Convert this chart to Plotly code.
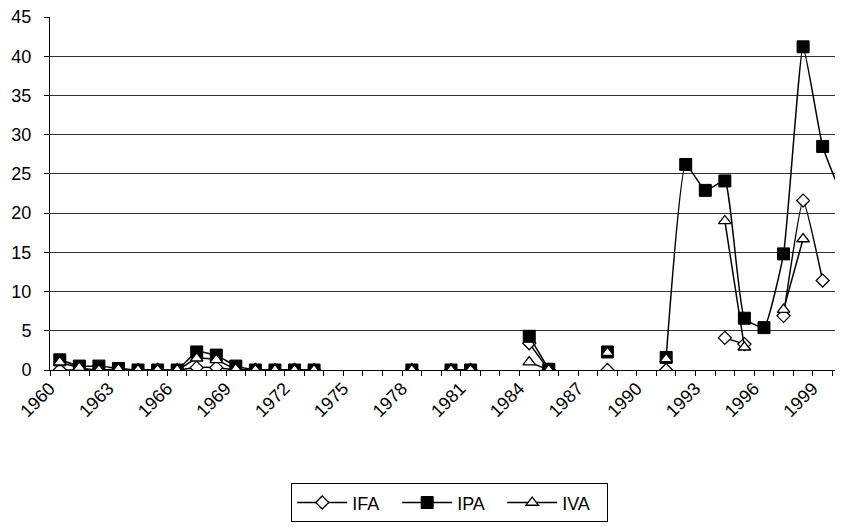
import plotly.graph_objects as go

years = list(range(1960, 2001))

N = None
# values per year 1960..2000 (None = no data)
ifa = [0, 0, 0, 0, 0, 0, 0, 0.3, 0.3, 0, 0, 0, 0, 0,
       N, N, N, N, 0, N, 0, 0, N, N, 3.4, 0, N, N, 0, N, N,
       0, N, N, 4.1, 3.3, N, 6.9, 21.6, 11.4, N]
ipa = [1.3, 0.5, 0.5, 0.2, 0, 0, 0, 2.3, 1.9, 0.5, 0, 0, 0, 0,
       N, N, N, N, 0, N, 0, 0, N, N, 4.3, 0.1, N, N, 2.3, N, N,
       1.6, 26.2, 22.9, 24.1, 6.6, 5.4, 14.8, 41.2, 28.5, 22.1]
iva = [1.0, 0.3, 0, 0.1, 0, 0, 0, 1.5, 1.3, 0.1, 0, 0, 0, 0,
       N, N, N, N, 0, N, 0, 0, N, N, 1.0, 0, N, N, 2.2, N, N,
       1.4, N, N, 19.0, 2.9, N, 7.7, 16.7, N, N]

label_years = list(range(1960, 2000, 3))

FONT = "Arial, Liberation Sans, sans-serif"
FS = 18

fig = go.Figure()
line_style = dict(color="black", width=1.5, shape="spline", smoothing=0.4)
fig.add_trace(go.Scatter(
    x=years, y=ifa, name="IFA", mode="lines+markers",
    line=line_style,
    marker=dict(symbol="diamond", size=10, color="white",
                line=dict(color="black", width=1.3)),
))
fig.add_trace(go.Scatter(
    x=years, y=ipa, name="IPA", mode="lines+markers",
    line=line_style,
    marker=dict(symbol="square", size=12, color="black",
                line=dict(color="black", width=1)),
))
fig.add_trace(go.Scatter(
    x=years, y=iva, name="IVA", mode="lines+markers",
    line=line_style,
    marker=dict(symbol="triangle-up", size=11, color="white",
                line=dict(color="black", width=1.3)),
))

fig.update_layout(
    width=835, height=519,
    margin=dict(l=42, r=0, t=9, b=156.5, autoexpand=False),
    paper_bgcolor="white", plot_bgcolor="white",
    font=dict(family=FONT, size=FS, color="black"),
    showlegend=True,
    legend=dict(orientation="h", x=0.504, xanchor="center",
                y=-0.321, yanchor="top",
                itemwidth=50, entrywidth=40,
                bordercolor="black", borderwidth=1,
                font=dict(family=FONT, size=FS, color="black")),
    xaxis=dict(
        range=[1959.5, 2000.04], automargin=False,
        tickmode="array", tickvals=label_years,
        ticktext=[str(y) for y in label_years],
        ticks="", tickangle=-45, ticklabelstandoff=0,
        ticklabelshift=-10, ticklabeloverflow="allow",
        showgrid=False, zeroline=False,
        showline=True, linecolor="black", linewidth=1,
        minor=dict(tick0=1959.5, dtick=1, ticks="outside", ticklen=5,
                   tickcolor="black", showgrid=False),
        tickfont=dict(family=FONT, size=FS, color="black"),
    ),
    yaxis=dict(
        range=[0, 45], dtick=5, tick0=0, automargin=False,
        showgrid=True, gridcolor="#333333", gridwidth=1,
        zeroline=False,
        showline=True, linecolor="black", linewidth=1,
        ticks="outside", ticklen=5, tickcolor="black",
        ticklabelstandoff=9, ticklabeloverflow="allow",
        tickfont=dict(family=FONT, size=FS, color="black"),
    ),
)

fig.write_html("out.html")
